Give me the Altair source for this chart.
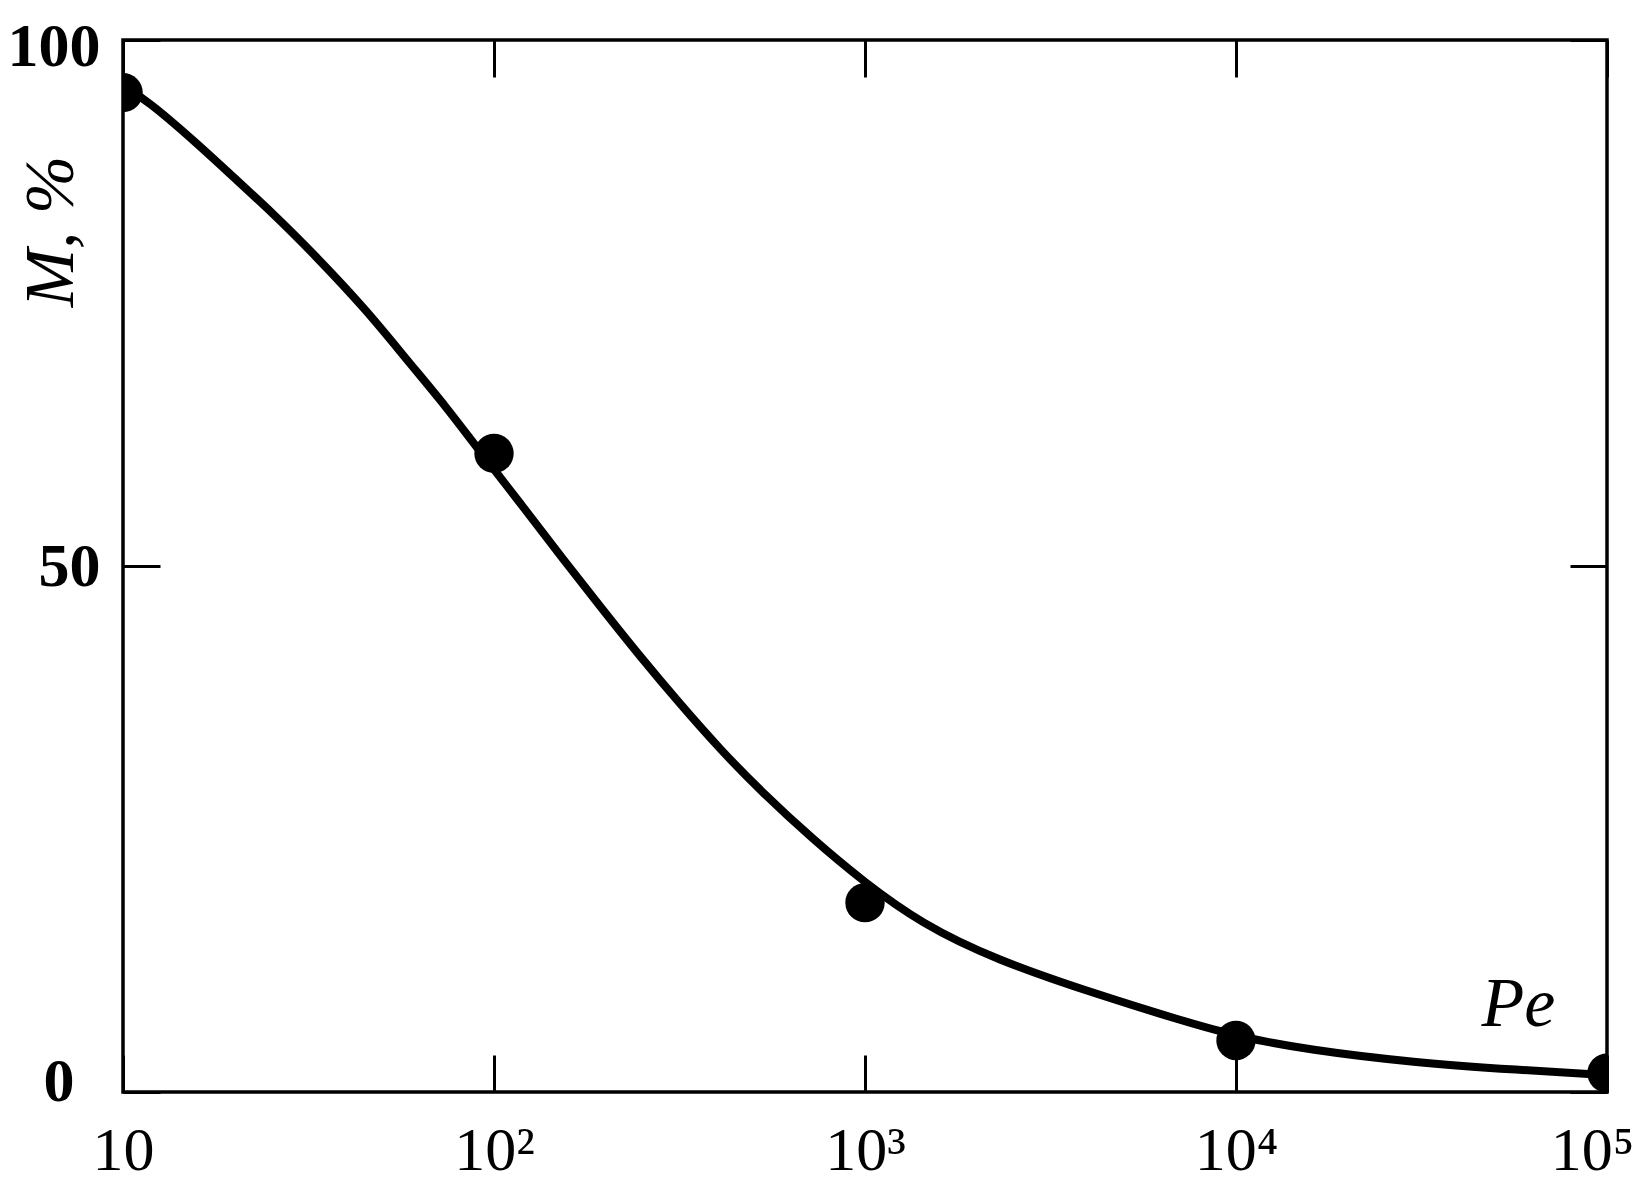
import altair as alt
import pandas as pd

# Curve
curve_pe = [10, 11.6, 15.8, 19.8, 25.4, 32.6, 45.4, 58.2, 74.5, 89.7, 117.6, 153.8,
            196.9, 247.6, 317, 406, 531, 725, 990, 1419, 2238, 4285, 7210, 10000,
            15740, 30100, 57700, 100000]
curve_m = [95.6, 94.3, 90.2, 87.0, 83.5, 79.7, 74.3, 69.6, 65.1, 61.3, 56.0, 50.6,
           45.8, 41.4, 36.9, 32.6, 28.4, 24.0, 20.0, 16.0, 12.6, 9.2, 6.75, 5.3,
           4.0, 2.8, 2.1, 1.6]

# Measured points
point_pe = [10, 100, 1000, 10000, 100000]
point_m = [95.0, 60.7, 18.0, 4.9, 1.8]

# Axis ticks and labels
x_ticks = [10, 100, 1000, 10000, 100000]
x_labels = ["10", "10²", "10³", "10⁴", "10⁵"]
y_ticks = [0, 50, 100]

curve_df = pd.DataFrame({"Pe": curve_pe, "M": curve_m})
point_df = pd.DataFrame({"Pe": point_pe, "M": point_m})

label_expr = "".join(
    f"datum.value == {v} ? '{t}' : " for v, t in zip(x_ticks, x_labels)
) + "''"

FONT = "Liberation Serif"
TICK = 37

x_scale = alt.Scale(type="log", domain=[10, 100000], nice=False)
y_scale = alt.Scale(domain=[0, 100], nice=False, zero=False)

line = alt.Chart(curve_df).mark_line(
    color="black", strokeWidth=8, interpolate="basis", clip=True
).encode(
    x=alt.X("Pe:Q", scale=x_scale,
            axis=alt.Axis(orient="bottom", offset=-TICK, tickSize=TICK, tickWidth=3,
                          tickColor="black", domain=False, grid=False,
                          values=x_ticks, labelExpr=label_expr,
                          labelFont=FONT, labelFontSize=62, labelColor="black",
                          labelPadding=28, labelBaseline="top", labelFlush=False,
                          labelOverlap=False,
                          labelOffset={"condition": {"test": "datum.value == 100000", "value": -15}, "value": 0},
                          title="Pe", titleFont=FONT, titleFontSize=70,
                          titleFontStyle="italic", titleFontWeight="normal",
                          titleColor="black", titleX=1395, titleY=-30,
                          titleAlign="center", titleBaseline="alphabetic")),
    y=alt.Y("M:Q", scale=y_scale,
            axis=alt.Axis(orient="left", offset=-TICK, tickSize=TICK, tickWidth=3,
                          tickColor="black", domain=False, grid=False,
                          values=y_ticks, labelFont=FONT, labelFontSize=62,
                          labelFontWeight="bold", labelColor="black",
                          labelPadding={"condition": {"test": "datum.value == 0", "value": 49}, "value": 23},
                          labelOffset={"condition": [
                              {"test": "datum.value == 0", "value": -11},
                              {"test": "datum.value == 100", "value": 6}],
                              "value": 0},
                          labelAlign="right", labelBaseline="middle",
                          labelFlush=False, labelOverlap=False,
                          title="M, %", titleFont=FONT, titleFontSize=70,
                          titleFontStyle="italic", titleFontWeight="normal",
                          titleColor="black", titleX=-109, titleY=191,
                          titleAngle=270, titleAlign="center",
                          titleBaseline="middle")),
)

points = alt.Chart(point_df).mark_circle(
    color="black", opacity=1, size=1550, clip=True
).encode(
    x=alt.X("Pe:Q", scale=x_scale,
            axis=alt.Axis(orient="top", offset=-TICK, tickSize=TICK, tickWidth=3,
                          tickColor="black", domain=False, grid=False,
                          values=x_ticks, labels=False, title=None)),
    y=alt.Y("M:Q", scale=y_scale,
            axis=alt.Axis(orient="right", offset=-TICK, tickSize=TICK, tickWidth=3,
                          tickColor="black", domain=False, grid=False,
                          values=y_ticks, labels=False, title=None)),
)

chart = alt.layer(line, points).properties(
    width=1484,
    height=1052,
    padding={"left": 115, "top": 32, "right": 26, "bottom": 90},
    autosize=alt.AutoSizeParams(type="none"),
    background="white",
).configure_view(
    stroke="black", strokeWidth=3.5
)

chart.save("out.html", embed_options={"renderer": "svg", "actions": False})
